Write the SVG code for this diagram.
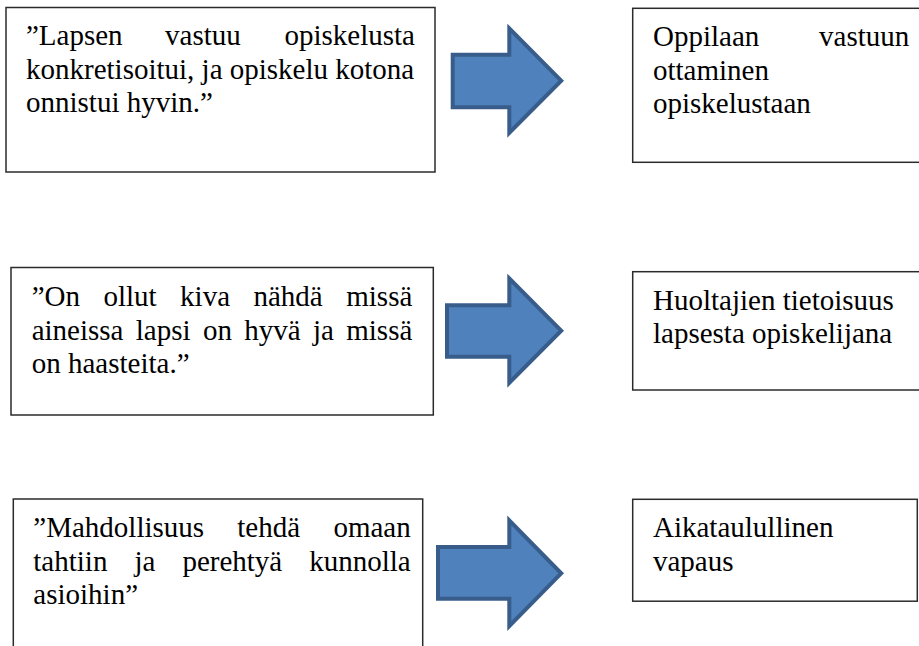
<svg xmlns="http://www.w3.org/2000/svg" width="919" height="646" viewBox="0 0 919 646" xml:lang="fi">
<style>
.box{fill:#ffffff;stroke:#2b2b2b;stroke-width:1.5}
.arrow{fill:#4f81bd;stroke:#385d8a;stroke-width:4;stroke-linejoin:miter}
text{font-family:'Liberation Serif','Times New Roman',Tinos,serif;font-size:29px;fill:#000000}
</style>
<rect width="919" height="646" fill="#ffffff"/>
<g id="quote1">
<rect class="box" x="6" y="7.5" width="429" height="164.5"/>
<text font-family="Liberation Serif, serif" y="45"><tspan x="26">”Lapsen</tspan><tspan x="165.1">vastuu</tspan><tspan x="415" text-anchor="end">opiskelusta</tspan></text>
<text font-family="Liberation Serif, serif" x="26" y="78.5">konkretisoitui, ja opiskelu kotona</text>
<text font-family="Liberation Serif, serif" x="26" y="112">onnistui hyvin.”</text>
</g>
<g id="quote2">
<rect class="box" x="11" y="267.5" width="422.3" height="147.5"/>
<text font-family="Liberation Serif, serif" y="306"><tspan x="31.7">”On</tspan><tspan x="103.5">ollut</tspan><tspan x="180.1">kiva</tspan><tspan x="253.5">nähdä</tspan><tspan x="412.3" text-anchor="end">missä</tspan></text>
<text font-family="Liberation Serif, serif" y="339.5"><tspan x="31.7">aineissa</tspan><tspan x="135.8">lapsi</tspan><tspan x="202.9">on</tspan><tspan x="244.3">hyvä</tspan><tspan x="313">ja</tspan><tspan x="412.3" text-anchor="end">missä</tspan></text>
<text font-family="Liberation Serif, serif" x="31.7" y="373">on haasteita.”</text>
</g>
<g id="quote3">
<rect class="box" x="13.3" y="499" width="409.4" height="160"/>
<text font-family="Liberation Serif, serif" y="537"><tspan x="33.3">”Mahdollisuus</tspan><tspan x="237.3">tehdä</tspan><tspan x="410.7" text-anchor="end">omaan</tspan></text>
<text font-family="Liberation Serif, serif" y="570.5"><tspan x="33.3">tahtiin</tspan><tspan x="134.4">ja</tspan><tspan x="182.4">perehtyä</tspan><tspan x="410.7" text-anchor="end">kunnolla</tspan></text>
<text font-family="Liberation Serif, serif" x="33.3" y="604">asioihin”</text>
</g>
<g id="theme1">
<rect class="box" x="632.7" y="8.3" width="300" height="154"/>
<text font-family="Liberation Serif, serif" y="46"><tspan x="653">Oppilaan</tspan><tspan x="909.3" text-anchor="end">vastuun</tspan></text>
<text font-family="Liberation Serif, serif" x="653" y="79.5">ottaminen</text>
<text font-family="Liberation Serif, serif" x="653" y="113">opiskelustaan</text>
</g>
<g id="theme2">
<rect class="box" x="632.7" y="271.7" width="300" height="118.3"/>
<text font-family="Liberation Serif, serif" x="653" y="309.5">Huoltajien tietoisuus</text>
<text font-family="Liberation Serif, serif" x="653" y="343">lapsesta opiskelijana</text>
</g>
<g id="theme3">
<rect class="box" x="632.7" y="499.3" width="284.6" height="101.9"/>
<text font-family="Liberation Serif, serif" x="653" y="537.3">Aikataulullinen</text>
<text font-family="Liberation Serif, serif" x="653" y="570.8">vapaus</text>
</g>
<g id="connectors">
<path class="arrow" d="M452.7,54.7 H509.3 V28.5 L561.2,80.7 L509.3,132.9 V107.3 H452.7 Z"/>
<path class="arrow" d="M447,305.3 H509.3 V278.5 L561.2,330.7 L509.3,382.9 V356.7 H447 Z"/>
<path class="arrow" d="M438,547 H509.3 V520.5 L561.2,573.3 L509.3,626 V598.7 H438 Z"/>
</g>
</svg>
